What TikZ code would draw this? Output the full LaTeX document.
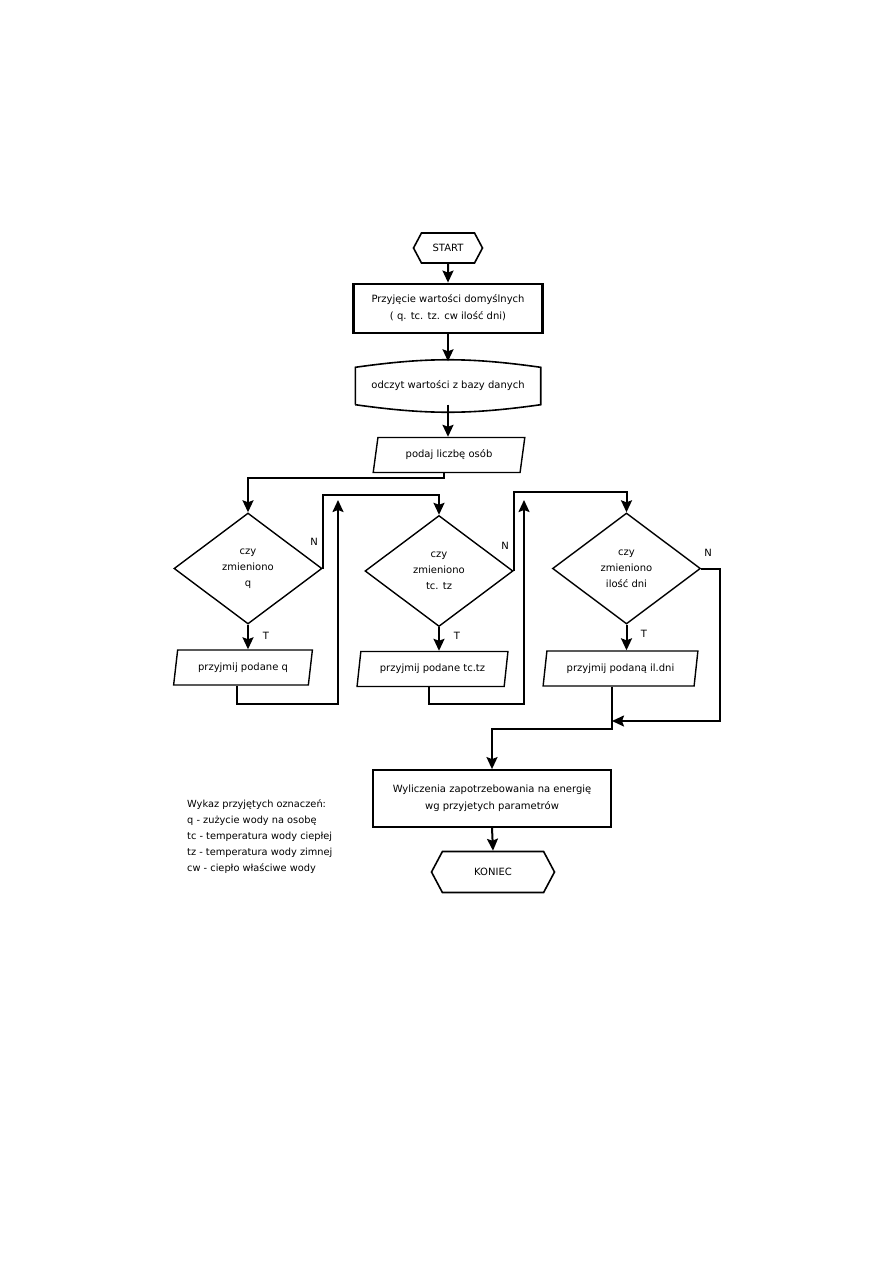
\documentclass[tikz,border=0pt]{standalone}
\usepackage{fontspec}
\setmainfont{DejaVu Sans}
\usetikzlibrary{shapes.geometric,shapes.symbols,arrows.meta}

\begin{document}
\begin{tikzpicture}[
  x=1pt,y=-1pt,
  font=\fontsize{10}{17}\selectfont,
  terminal/.style={signal,signal to=west and east,signal pointer angle=124,draw,line width=1.6pt,inner sep=0pt},
  box/.style={rectangle,draw,align=center},
  io/.style={trapezium,trapezium left angle=74,trapezium right angle=106,trapezium stretches=true,draw,line width=1.4pt,minimum height=35pt,inner sep=0pt},
  decision/.style={diamond,draw,line width=1.4pt,minimum width=148pt,minimum height=111pt,aspect=1.33,inner sep=0pt,align=center,font=\fontsize{10}{16}\selectfont},
  arrow/.style={-{Stealth[length=12pt,width=11pt,inset=2pt]},line width=2pt},
  label/.style={font=\fontsize{10}{10}\selectfont}
]
\useasboundingbox (0,0) rectangle (893,1263);

% ===== START and defaults =====
\node[terminal,minimum width=69pt,minimum height=30pt] (start) at (448,248) {START};

\node[box,line width=2.8pt,minimum width=189pt,minimum height=49pt] (defaults) at (448,308.5)
  {Przyjęcie wartości domyślnych\\( q. tc. tz. cw ilość dni)};
\draw[arrow] (start) -- (defaults);

% Data from the data base
\node[minimum width=185pt,minimum height=37pt] (database) at (448,386) {odczyt wartości z bazy danych};
\draw[line width=1.6pt] (database.south west) -- (database.north west)
  to[bend left=8] (database.north east) -- (database.south east)
  to[bend left=8] (database.south west);
\draw[arrow,shorten >=6pt] (defaults) -- (database);

\node[io,minimum width=152pt] (persons) at (449,455) {podaj liczbę osób};
\draw[arrow] (database.south) -- (database.south |- persons.north);

% ===== Decisions =====
\node[decision] (dec_q) at (248,568.5) {czy\\zmieniono\\q};
\node[decision] (dec_t) at (439,571) {czy\\zmieniono\\tc. tz};
\node[decision] (dec_d) at (626.5,568.5) {czy\\zmieniono\\ilość dni};

\draw[arrow] ([xshift=-5pt]persons.south) -- ++(0,5) -| (dec_q.north);

% Inputs (T branches)
\node[io,minimum width=140pt] (in_q) at (243,667.5) {przyjmij podane q};
\node[io,minimum width=151pt] (in_t) at (432.5,669) {przyjmij podane tc.tz};
\node[io,minimum width=155pt] (in_d) at (620.5,668.5) {przyjmij podaną il.dni};

\draw[arrow] (dec_q.south) -- (dec_q.south |- in_q.north);
\draw[arrow] (dec_t.south) -- (dec_t.south |- in_t.north);
\draw[arrow] (dec_d.south) -- (dec_d.south |- in_d.north);

\node[label] at (266,636) {T};
\node[label] at (457,636) {T};
\node[label] at (644,634) {T};

% N branches
\draw[arrow] (dec_q.east) -- ++(0,-74) -| (dec_t.north);
\draw[arrow] (dec_t.east) -- ++(0,-79) -| (dec_d.north);

\node[label] at (314,542) {N};
\node[label] at (505,546) {N};
\node[label] at (708,553) {N};

% Back to the main line
\coordinate (join_q) at (338,500);
\coordinate (join_t) at (524,500);
\coordinate (join_d) at (612,721);

\draw[arrow] ([xshift=-6pt]in_q.south) -- ++(0,18) -| (join_q);
\draw[arrow] ([xshift=-4pt]in_t.south) -- ++(0,17) -| (join_t);
\draw[arrow] (dec_d.east) -- ++(19,0) |- (join_d);

% ===== Calculation and end =====
\node[box,line width=1.8pt,minimum width=238pt,minimum height=57pt] (calc) at (492,798.5)
  {Wyliczenia zapotrzebowania na energię\\wg przyjetych parametrów};
\draw[arrow] (join_d |- in_d.south) -- ++(0,42) -| (calc.north);

\node[terminal,minimum width=123pt,minimum height=41pt] (stop) at (493,872) {KONIEC};
\draw[arrow] (calc.south) -- (stop.north);

% Legend
\node[anchor=north west,align=left,inner sep=0pt,font=\fontsize{9.8}{16}\selectfont] (legend) at (187,799)
  {Wykaz przyjętych oznaczeń:\\
   q - zużycie wody na osobę\\
   tc - temperatura wody ciepłej\\
   tz - temperatura wody zimnej\\
   cw - ciepło właściwe wody};

\end{tikzpicture}
\end{document}
